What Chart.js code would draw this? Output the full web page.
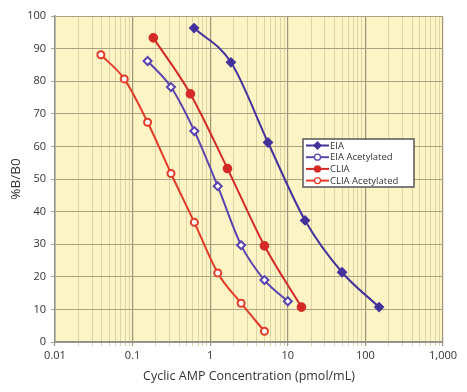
<!DOCTYPE html>
<html>
<head>
<meta charset="utf-8">
<script src="https://cdn.jsdelivr.net/npm/chart.js@4"></script>
<style>
  body { margin: 0; background: #fff; }
  #wrap { width: 467px; height: 392px; }
</style>
</head>
<body>
<div id="wrap"><canvas id="campChart" width="467" height="392"></canvas></div>
<script>
// concentrations (pmol/mL) and %B/B0 per assay
const eiaConc = [0.62, 1.85, 5.56, 16.7, 50, 150];
const eiaVals = [96.3, 85.8, 61.2, 37.3, 21.4, 10.7];

const eiaAcConc = [0.156, 0.3125, 0.625, 1.25, 2.5, 5, 10];
const eiaAcVals = [86.2, 78.2, 64.7, 47.8, 29.7, 19.0, 12.5];

const cliaConc = [0.185, 0.556, 1.67, 5, 15];
const cliaVals = [93.3, 76.1, 53.2, 29.5, 10.7];

const cliaAcConc = [0.039, 0.078, 0.156, 0.3125, 0.625, 1.25, 2.5, 5];
const cliaAcVals = [88.1, 80.7, 67.4, 51.7, 36.7, 21.2, 11.9, 3.3];

const seriesNames = ['EIA', 'EIA Acetylated', 'CLIA', 'CLIA Acetylated'];
const xTickLabels = { 0.01: '0.01', 0.1: '0.1', 1: '1', 10: '10', 100: '100', 1000: '1,000' };

const blue = '#44329b';
const purple = '#5a44ad';
const red = '#d42a26';
const orange = '#e23b28';

function toPoints(xs, ys) {
    return xs.map((x, i) => ({ x: x, y: ys[i] }));
}

function isDecade(v) {
    const l = Math.log10(v);
    return Math.abs(l - Math.round(l)) < 1e-6;
}

const plotBg = {
    id: 'plotBg',
    beforeDraw(chart) {
        const { ctx, chartArea } = chart;
        ctx.save();
        ctx.fillStyle = '#fdf4c6';
        ctx.fillRect(chartArea.left, chartArea.top, chartArea.width, chartArea.height);
        ctx.restore();
    }
};

const boxLegend = {
    id: 'boxLegend',
    afterDraw(chart) {
        const ctx = chart.ctx;
        const x0 = 303, y0 = 139, w = 111, h = 48;
        ctx.save();
        ctx.fillStyle = '#ffffff';
        ctx.fillRect(x0, y0, w, h);
        ctx.strokeStyle = '#555555';
        ctx.lineWidth = 1.5;
        ctx.strokeRect(x0, y0, w, h);
        ctx.font = '9.5px "Open Sans", sans-serif';
        ctx.textBaseline = 'middle';
        chart.data.datasets.forEach((ds, i) => {
            const y = y0 + 6.5 + i * 11.7;
            ctx.strokeStyle = ds.borderColor;
            ctx.lineWidth = 2;
            ctx.beginPath();
            ctx.moveTo(x0 + 3, y);
            ctx.lineTo(x0 + 26, y);
            ctx.stroke();
            ctx.beginPath();
            if (i === 0) {
                ctx.moveTo(x0 + 14.5, y - 3.5);
                ctx.lineTo(x0 + 18, y);
                ctx.lineTo(x0 + 14.5, y + 3.5);
                ctx.lineTo(x0 + 11, y);
                ctx.closePath();
            } else {
                ctx.arc(x0 + 14.5, y, 3, 0, Math.PI * 2);
            }
            ctx.fillStyle = ds.pointBackgroundColor;
            ctx.fill();
            ctx.lineWidth = 1.3;
            ctx.stroke();
            ctx.fillStyle = '#333333';
            ctx.fillText(ds.label, x0 + 27, y + 0.5);
        });
        ctx.restore();
    }
};

const ctx = document.getElementById('campChart').getContext('2d');

new Chart(ctx, {
    type: 'line',
    data: {
        datasets: [{
            label: seriesNames[0],
            data: toPoints(eiaConc, eiaVals),
            borderColor: blue,
            backgroundColor: blue,
            pointBackgroundColor: blue,
            pointStyle: 'rectRot',
            pointRadius: 4,
            borderWidth: 2
        }, {
            label: seriesNames[1],
            data: toPoints(eiaAcConc, eiaAcVals),
            borderColor: purple,
            backgroundColor: '#ffffff',
            pointBackgroundColor: '#ffffff',
            pointStyle: 'rectRot',
            pointRadius: 4,
            borderWidth: 2
        }, {
            label: seriesNames[2],
            data: toPoints(cliaConc, cliaVals),
            borderColor: red,
            backgroundColor: red,
            pointBackgroundColor: red,
            pointStyle: 'circle',
            pointRadius: 3.8,
            borderWidth: 2
        }, {
            label: seriesNames[3],
            data: toPoints(cliaAcConc, cliaAcVals),
            borderColor: orange,
            backgroundColor: '#ffffff',
            pointBackgroundColor: '#ffffff',
            pointStyle: 'circle',
            pointRadius: 3.5,
            borderWidth: 2
        }]
    },
    options: {
        responsive: false,
        animation: false,
        layout: { padding: { left: 4, right: 24, top: 16, bottom: 4 } },
        elements: {
            line: { tension: 0.4, cubicInterpolationMode: 'monotone' },
            point: { borderWidth: 1.5 }
        },
        plugins: {
            legend: { display: false },
            tooltip: { enabled: false }
        },
        scales: {
            x: {
                type: 'logarithmic',
                min: 0.01,
                max: 1000,
                afterFit: s => { s.height = 46; },
                afterBuildTicks: s => {
                    const t = [];
                    for (let e = -2; e <= 3; e++) {
                        for (let m = 1; m <= 9; m++) {
                            const v = m * Math.pow(10, e);
                            if (v <= 1000.0001) t.push({ value: +v.toPrecision(3) });
                        }
                    }
                    s.ticks = t;
                },
                ticks: {
                    autoSkip: false,
                    maxRotation: 0,
                    color: '#333333',
                    font: { family: 'Open Sans', size: 11 },
                    callback: function (v) {
                        return isDecade(v) ? xTickLabels[+v.toPrecision(3)] : '';
                    }
                },
                grid: {
                    color: c => isDecade(c.tick.value) ? '#9d957a' : '#ddd3a6',
                    lineWidth: c => isDecade(c.tick.value) ? 1.2 : 1,
                    drawTicks: true,
                    tickLength: 4
                },
                border: { color: '#8f8f8f', width: 1.5 },
                title: {
                    display: true,
                    text: 'Cyclic AMP Concentration (pmol/mL)',
                    color: '#333333',
                    font: { family: 'Open Sans', size: 12.5 },
                    padding: { top: 4 }
                }
            },
            y: {
                min: 0,
                max: 100,
                afterFit: s => { s.width = 51; },
                ticks: {
                    stepSize: 10,
                    color: '#333333',
                    font: { family: 'Open Sans', size: 11 },
                    padding: 5
                },
                grid: {
                    color: '#aaa283',
                    lineWidth: 1,
                    tickLength: 4
                },
                border: { color: '#8f8f8f', width: 1.5 },
                title: {
                    display: true,
                    text: '%B/B0',
                    color: '#333333',
                    font: { family: 'Open Sans', size: 13.5 },
                    padding: { bottom: 2 }
                }
            }
        }
    },
    plugins: [plotBg, boxLegend]
});
</script>
</body>
</html>
